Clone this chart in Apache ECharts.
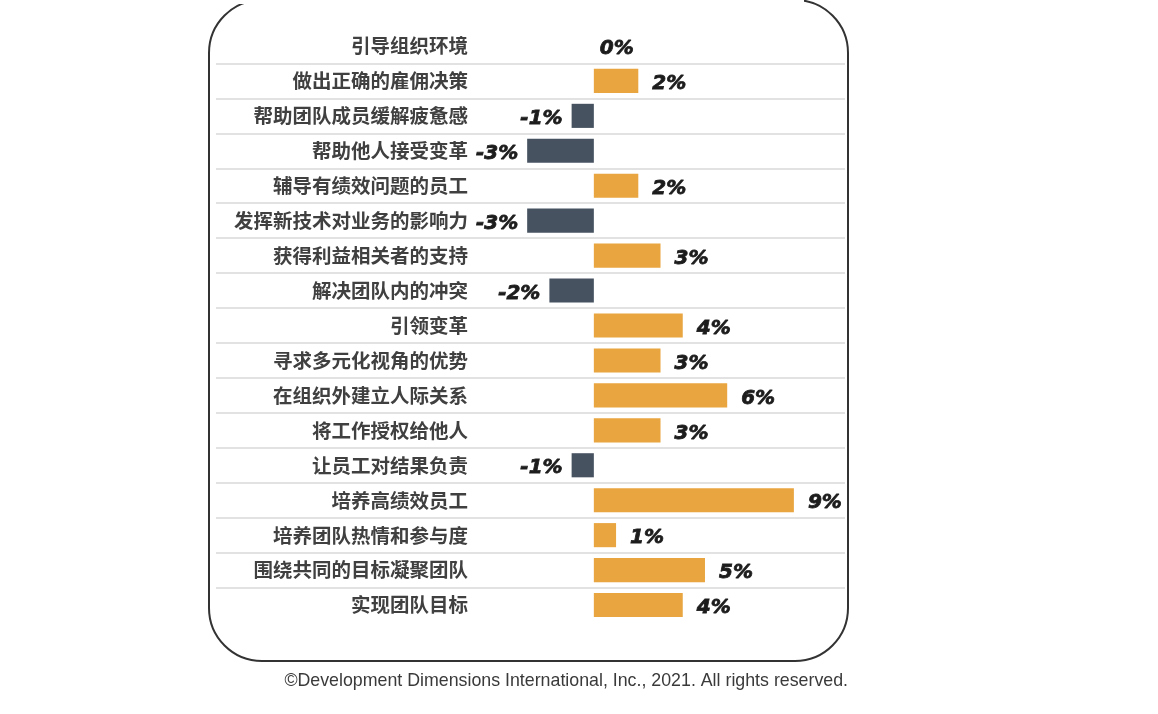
<!DOCTYPE html>
<html lang="zh">
<head>
    <meta charset="UTF-8">
    <script type="text/javascript" src="https://cdn.jsdelivr.net/npm/echarts@6/dist/echarts.min.js"></script>
    <title>Skills chart</title>
    <style>
        html, body { margin: 0; padding: 0; background: #fff; }
        #chart { width: 1158px; height: 714px; }
    </style>
</head>
<body>
<div id="chart"></div>

<script>
    // categories, top to bottom
    var categories = [
        '引导组织环境', '做出正确的雇佣决策', '帮助团队成员缓解疲惫感', '帮助他人接受变革',
        '辅导有绩效问题的员工', '发挥新技术对业务的影响力', '获得利益相关者的支持', '解决团队内的冲突',
        '引领变革', '寻求多元化视角的优势', '在组织外建立人际关系', '将工作授权给他人',
        '让员工对结果负责', '培养高绩效员工', '培养团队热情和参与度', '围绕共同的目标凝聚团队',
        '实现团队目标'
    ];
    // change in percent
    var values = [0, 2, -1, -3, 2, -3, 3, -2, 4, 3, 6, 3, -1, 9, 1, 5, 4];
    var footnote = '©Development Dimensions International, Inc., 2021. All rights reserved.';

    var posColor = '#E9A53F';
    var negColor = '#465260';

    var chart = echarts.init(document.getElementById('chart'));

    var barData = values.map(function (v) {
        var neg = v < 0;
        return {
            value: v,
            itemStyle: {color: neg ? negColor : posColor},
            label: {
                position: neg ? 'left' : 'right',
                distance: neg ? 9 : (v === 0 ? 6 : 14)
            }
        };
    });

    var option = {
        animation: false,
        grid: {left: 216, right: 313, top: 28.5, bottom: 91.5},
        xAxis: {
            type: 'value',
            min: -17,
            max: 11.3,
            show: false
        },
        yAxis: {
            type: 'category',
            inverse: true,
            data: categories,
            offset: -252,
            axisLine: {show: false},
            axisTick: {show: false},
            axisLabel: {
                margin: 0,
                fontSize: 19.5,
                fontWeight: 'bold',
                color: '#404040',
                fontFamily: '"Noto Sans CJK SC", sans-serif'
            },
            splitLine: {
                show: true,
                showMinLine: false,
                showMaxLine: false,
                lineStyle: {color: '#e2e2e2', width: 2}
            }
        },
        series: [{
            type: 'bar',
            data: barData,
            barCategoryGap: '31%',
            label: {
                show: true,
                formatter: '{c}%',
                offset: [0, 3],
                fontFamily: '"DejaVu Sans", sans-serif',
                fontStyle: 'italic',
                fontWeight: 'bold',
                fontSize: 20,
                color: '#1c1c1c',
                textBorderColor: '#1c1c1c',
                textBorderWidth: 0.8
            }
        }],
        graphic: [
            {
                type: 'rect',
                z: 1,
                shape: {x: 209, y: 0, width: 639, height: 661, r: 53},
                style: {fill: 'none', stroke: '#333', lineWidth: 2}
            },
            {
                type: 'rect',
                z: 2,
                shape: {x: 236, y: -3, width: 568, height: 7},
                style: {fill: '#fff'}
            },
            {
                type: 'text',
                right: 1158 - 848,
                top: 672,
                style: {
                    text: footnote,
                    fontSize: 17.8,
                    fill: '#3a3a3a',
                    fontFamily: '"Liberation Sans", Arial, sans-serif'
                }
            }
        ]
    };

    chart.setOption(option);
</script>
</body>
</html>
